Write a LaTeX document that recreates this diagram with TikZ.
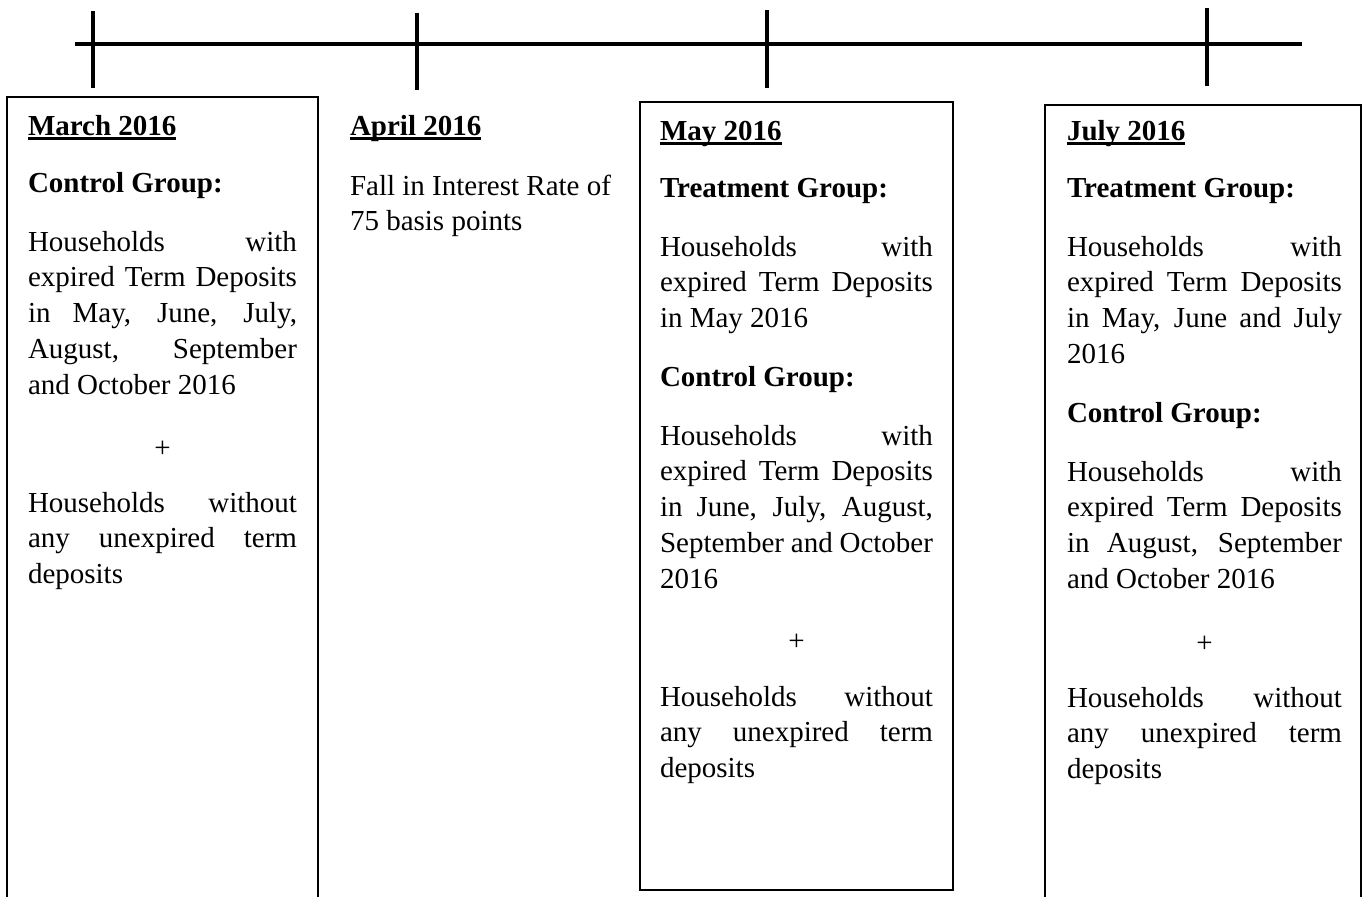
\documentclass[tikz,border=0pt]{standalone}
\usepackage{fontspec}
\setmainfont{Liberation Serif}
\newcommand\fs{\fontsize{14.5pt}{17.9pt}\selectfont\tolerance=10000\hbadness=10000\hyphenpenalty=10000\relax}
\newcommand\ulh[1]{\setbox0\hbox{\bfseries #1}\rlap{\rule[-2.4pt]{\wd0}{1.2pt}}\box0}
\tikzset{
  txt/.style={anchor=base west, inner sep=0pt, outer sep=0pt, font=\fs, align=justify},
  txtm/.style={txt, text width=134.5pt},
  txty/.style={txt, text width=136.5pt},
  txtj/.style={txt, text width=137.5pt},
  txta/.style={txt, text width=150pt, align=flush left},
  plus/.style={anchor=base, inner sep=0pt, outer sep=0pt, font=\fs},
  box/.style={draw, line width=0.9pt},
  tl/.style={line width=2pt},
}
\begin{document}
\begin{tikzpicture}[x=0.5pt,y=-0.5pt]
\clip (0,0) rectangle (1367,896);
% timeline
\coordinate (L) at (75,44);
\coordinate (R) at (1302,44);
\draw[tl] (L) -- (R);
\coordinate (t1a) at (93,11);   \coordinate (t1b) at (93,88);
\coordinate (t2a) at (417,13);  \coordinate (t2b) at (417,90);
\coordinate (t3a) at (767,10);  \coordinate (t3b) at (767,88);
\coordinate (t4a) at (1207,8);  \coordinate (t4b) at (1207,86);
\draw[tl] (t1a) -- (t1b);
\draw[tl] (t2a) -- (t2b);
\draw[tl] (t3a) -- (t3b);
\draw[tl] (t4a) -- (t4b);
% boxes
\draw[box] (7,97) rectangle (318,910);
\draw[box] (640,102) rectangle (953,890);
\draw[box] (1045,105) rectangle (1361,910);
% March
\node[txtm] (mh) at (28,135) {\ulh{March 2016}};
\node[txtm] (mc) at (28,192) {\textbf{Control Group:}};
\node[txtm] (mp1) at (28,251) {Households with\linebreak expired Term Deposits\linebreak in May, June, July,\linebreak August, September\linebreak and October 2016};
\node[plus] (mplus) at (162.5,457) {+};
\node[txtm] (mp2) at (28,512) {Households without\linebreak any unexpired term\linebreak deposits};
% April
\node[txta] (ah) at (350,135) {\ulh{April 2016}};
\node[txta] (ap) at (350,195) {Fall in Interest Rate of\\75 basis points};
% May
\node[txty] (yh) at (660,140) {\ulh{May 2016}};
\node[txty] (yt) at (660,197) {\textbf{Treatment Group:}};
\node[txty] (yp1) at (660,256) {Households with\linebreak expired Term Deposits\linebreak in May 2016};
\node[txty] (yc) at (660,386) {\textbf{Control Group:}};
\node[txty] (yp2) at (660,445) {Households with\linebreak expired Term Deposits\linebreak in June, July, August,\linebreak September and October\linebreak 2016};
\node[plus] (yplus) at (796.5,650) {+};
\node[txty] (yp3) at (660,706) {Households without\linebreak any unexpired term\linebreak deposits};
% July
\node[txtj] (jh) at (1067,140) {\ulh{July 2016}};
\node[txtj] (jt) at (1067,197) {\textbf{Treatment Group:}};
\node[txtj] (jp1) at (1067,256) {Households with\linebreak expired Term Deposits\linebreak in May, June and July\linebreak 2016};
\node[txtj] (jc) at (1067,422) {\textbf{Control Group:}};
\node[txtj] (jp2) at (1067,481) {Households with\linebreak expired Term Deposits\linebreak in August, September\linebreak and October 2016};
\node[plus] (jplus) at (1204.5,652) {+};
\node[txtj] (jp3) at (1067,707) {Households without\linebreak any unexpired term\linebreak deposits};
\end{tikzpicture}
\end{document}
